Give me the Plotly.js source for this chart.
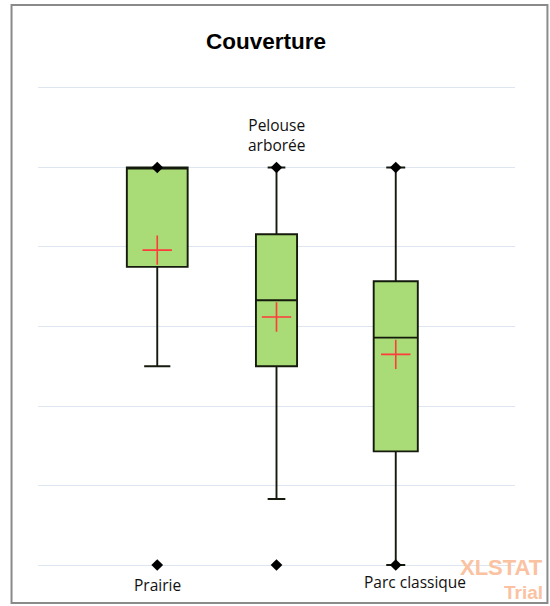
<!DOCTYPE html>
<html>
<head>
<meta charset="utf-8">
<script src="https://cdn.plot.ly/plotly-3.0.1.min.js"></script>
<style>
  html, body { margin: 0; padding: 0; background: #fff; }
  #chart { width: 550px; height: 606px; }
</style>
</head>
<body>
<div id="chart"></div>
<script>
// Box plot values (scale 0..6, no tick labels shown)
const categories = ['Prairie', 'Pelouse<br>arborée', 'Parc classique'];
const minimum = [0, 0, 0];
const lowerWhisker = [2.5, 0.83, 0];
const q1 = [3.75, 2.5, 1.43];
const median = [5, 3.33, 2.86];
const mean = [3.96, 3.12, 2.65];
const q3 = [5, 4.16, 3.57];
const upperWhisker = [5, 5, 5];
const maximum = [5, 5, 5];
const boxWidths = [0.51, 0.345, 0.37];

const positions = categories.map((c, i) => i + 1);

const traces = [];

// one box per category, stats given directly
categories.forEach((cat, i) => {
    traces.push({
        type: 'box',
        x: [positions[i]],
        q1: [q1[i]],
        median: [median[i]],
        q3: [q3[i]],
        lowerfence: [lowerWhisker[i]],
        upperfence: [upperWhisker[i]],
        width: boxWidths[i],
        whiskerwidth: 0.43,
        boxpoints: false,
        fillcolor: '#a9db76',
        line: { color: '#141a0c', width: 1.9 },
        hoverinfo: 'skip',
        showlegend: false
    });
});

// min / max diamonds
traces.push({
    type: 'scatter',
    mode: 'markers',
    x: positions.concat(positions),
    y: minimum.concat(maximum),
    marker: { symbol: 'diamond', size: 9, color: '#000' },
    hoverinfo: 'skip',
    showlegend: false,
    cliponaxis: false
});

// means as red crosses
traces.push({
    type: 'scatter',
    mode: 'markers',
    x: positions,
    y: mean,
    marker: { symbol: 'cross-thin', size: 21, line: { color: '#ff3b3b', width: 1.6 } },
    hoverinfo: 'skip',
    showlegend: false
});

const labelFont = { family: 'Open Sans, sans-serif', size: 15.5, color: '#111' };

// plot area spans pixel rows 84..569
const annotations = [
    { text: categories[0], x: positions[0], y: -0.0328 },
    { text: categories[1], x: positions[1], y: 0.8947 },
    { text: categories[2], x: positions[2], y: -0.0266, xshift: 19 }
].map(a => Object.assign({
    xref: 'x', yref: 'paper', yanchor: 'middle', showarrow: false,
    font: labelFont, align: 'center'
}, a));

// XLSTAT watermark
annotations.push({
    text: '<b>XLSTAT</b>', xref: 'paper', yref: 'paper', x: 1.063, y: 0.0023,
    xanchor: 'right', yanchor: 'middle', showarrow: false,
    font: { family: 'Liberation Sans Narrow, Arial Narrow, sans-serif', size: 22, color: '#fbc2a2' }
});
annotations.push({
    text: '<b>Trial</b>', xref: 'paper', yref: 'paper', x: 1.063, y: -0.0493,
    xanchor: 'right', yanchor: 'middle', showarrow: false,
    font: { family: 'Liberation Sans Narrow, Arial Narrow, sans-serif', size: 19, color: '#fbc2a2' }
});

const layout = {
    width: 550,
    height: 606,
    margin: { t: 84, b: 37, l: 38, r: 35 },
    title: {
        text: '<b>Couverture</b>',
        x: 0.478, xref: 'paper', xanchor: 'center',
        y: 1 - 41 / 606, yref: 'container', yanchor: 'middle',
        font: { family: 'Liberation Sans, Arial, sans-serif', size: 22.5, color: '#000' }
    },
    xaxis: {
        range: [0, 4],
        showgrid: false, zeroline: false, showticklabels: false, ticks: '', fixedrange: true
    },
    yaxis: {
        range: [-0.05, 6.05],
        tick0: 0, dtick: 1,
        showgrid: true, gridcolor: '#dde6f0', gridwidth: 1,
        zeroline: false, showticklabels: false, ticks: '', fixedrange: true
    },
    shapes: [{
        type: 'rect', xref: 'paper', yref: 'paper',
        x0: -0.0555, x1: 1.068, y0: -0.0699, y1: 1.163,
        line: { color: '#8a8a8a', width: 2 }
    }],
    annotations: annotations,
    paper_bgcolor: '#fff',
    plot_bgcolor: '#fff',
    font: { family: 'Open Sans, sans-serif' }
};

Plotly.newPlot('chart', traces, layout, { displayModeBar: false, staticPlot: true });
</script>
</body>
</html>
